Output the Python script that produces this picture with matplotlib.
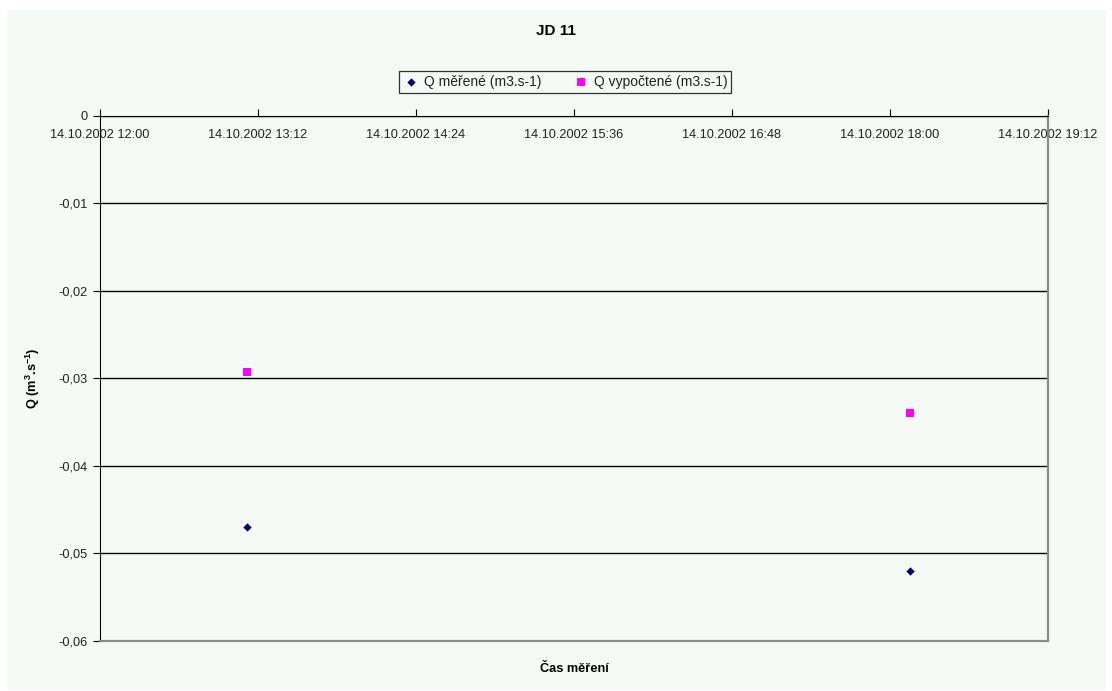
import matplotlib
matplotlib.use("Agg")
import matplotlib.pyplot as plt
import matplotlib.dates as mdates
from matplotlib.ticker import FuncFormatter, MultipleLocator
from matplotlib.patches import Rectangle
from datetime import datetime, timedelta

plt.rcParams['font.family'] = ['Liberation Sans', 'DejaVu Sans']
plt.rcParams['mathtext.default'] = 'regular'

# Measurement times and discharges
times = [datetime(2002, 10, 14, 13, 7), datetime(2002, 10, 14, 18, 9)]
q_measured = [-0.047, -0.052]
q_computed = [-0.0293, -0.0339]

series_labels = ["Q měřené (m3.s-1)", "Q vypočtené (m3.s-1)"]
title = "JD 11"
x_title = "Čas měření"
y_title = r"Q (m$^{3}$.s$^{-1}$)"

x_start = datetime(2002, 10, 14, 12, 0)
x_end = datetime(2002, 10, 14, 19, 12)
y_min, y_max = -0.06, 0.0

bg = '#f5faf7'
W, H = 1112, 691
fig = plt.figure(figsize=(W / 100, H / 100), dpi=100, facecolor='white')
fig.patches.append(Rectangle((7 / W, 1 / H), 1099 / W, 680 / H, transform=fig.transFigure,
                             facecolor=bg, edgecolor='none', zorder=-10))

ax = fig.add_axes([100 / W, 1 - 641 / H, 948 / W, 525 / H])
ax.set_facecolor(bg)

ax.set_xlim(mdates.date2num(x_start), mdates.date2num(x_end))
ax.set_ylim(y_min, y_max)

# Time axis sitting at Q = 0 (top of the plot)
ax.spines['bottom'].set_position(('data', 0))
ax.spines['bottom'].set_color('black')
ax.spines['top'].set_visible(False)
ax.spines['left'].set_color('black')
ax.spines['right'].set_color('#8c8c8c')
ax.spines['right'].set_linewidth(1.6)
ax.plot([0, 1], [0, 0], transform=ax.transAxes, color='#8c8c8c', lw=1.6,
        clip_on=False, zorder=3)

ticks = [mdates.date2num(x_start + timedelta(minutes=72 * i)) for i in range(7)]
ax.set_xticks(ticks)
ax.xaxis.set_major_formatter(mdates.DateFormatter('%d.%m.%Y %H:%M'))
ax.tick_params(axis='x', direction='in', length=5, pad=9, labelsize=9.2,
               colors='black', labelcolor='#222222')

ax.yaxis.set_major_locator(MultipleLocator(0.01))
ax.yaxis.set_major_formatter(FuncFormatter(
    lambda v, p: '0' if abs(v) < 1e-9 else f'{v:.2f}'.replace('.', ',')))
ax.tick_params(axis='y', direction='out', length=5, pad=4, labelsize=9.2,
               colors='black', labelcolor='#222222')
ax.grid(axis='y', color='black', lw=1.0)
ax.set_axisbelow(True)

ax.scatter(times, q_measured, marker='D', s=18, color='#000080', zorder=4,
           label=series_labels[0], linewidths=0)
ax.scatter(times, q_computed, marker='s', s=26, color='#ff00ff', zorder=4,
           label=series_labels[1], linewidths=0)

leg = fig.legend(loc='center', bbox_to_anchor=(565 / W, 1 - 82 / H), ncol=2,
                 fontsize=10, frameon=True, fancybox=False, edgecolor='black',
                 facecolor=bg, handletextpad=0.3, columnspacing=2.3,
                 borderpad=0.3, handlelength=1.2, markerscale=1.0)
leg.get_frame().set_linewidth(0.9)
for t in leg.get_texts():
    t.set_color('#222222')

fig.text(556 / W, 1 - 31 / H, title, ha='center', va='center', fontsize=11,
         fontweight='bold')
fig.text(574 / W, 1 - 669 / H, x_title, ha='center', va='center', fontsize=9.2,
         fontweight='bold')
fig.text(33 / W, 1 - 378 / H, y_title, ha='center', va='center', fontsize=9.2,
         fontweight='bold', rotation=90)

fig.savefig('out.png', dpi=100, facecolor='white')
